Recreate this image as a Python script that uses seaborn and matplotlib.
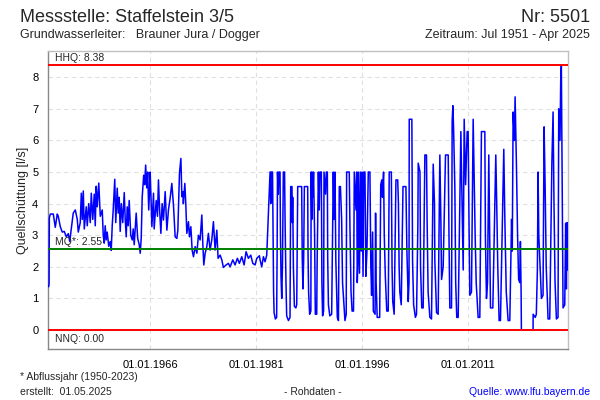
import matplotlib
matplotlib.use("Agg")
import matplotlib.pyplot as plt
import numpy as np
import seaborn as sns

# decimal years / discharge in l/s
years_early = [
    1951.64, 1951.70, 1951.74, 1951.88, 1952.30, 1952.58, 1952.86, 1953.00, 1953.29, 1953.57,
    1953.85, 1954.14, 1954.42, 1954.63, 1954.84, 1955.12, 1955.41, 1955.69, 1955.83, 1956.11,
    1956.26, 1956.40, 1956.54, 1956.68, 1956.96, 1957.10, 1957.31, 1957.53, 1957.67, 1957.88,
    1958.09, 1958.23, 1958.37, 1958.51, 1958.73, 1958.94, 1959.22, 1959.36, 1959.50, 1959.64,
    1959.78, 1959.92, 1960.14, 1960.35, 1960.49, 1960.63, 1960.77, 1960.99, 1961.13, 1961.34,
    1961.48, 1961.62, 1961.76, 1961.91, 1962.12, 1962.33, 1962.47, 1962.61, 1962.75, 1962.89,
    1963.03, 1963.25, 1963.46, 1963.60, 1963.74, 1964.02, 1964.23, 1964.45, 1964.59, 1964.73,
    1964.87, 1965.08, 1965.22, 1965.36, 1965.51, 1965.65, 1965.79, 1965.93, 1966.00, 1966.24,
    1966.47, 1966.56, 1966.85, 1967.03, 1967.17, 1967.31, 1967.51, 1967.69, 1967.88, 1968.12,
    1968.36, 1968.58, 1968.82, 1969.06, 1969.29, 1969.53, 1969.77, 1969.91, 1970.14, 1970.34,
    1970.48, 1970.62, 1970.69, 1970.90, 1971.04, 1971.18, 1971.41, 1971.55, 1971.75, 1971.93,
    1972.12, 1972.36, 1972.60, 1972.82, 1973.06, 1973.30, 1973.44, 1973.58, 1973.77, 1974.01,
    1974.23, 1974.47, 1974.71, 1974.94, 1975.18, 1975.42, 1975.60, 1975.89, 1976.13, 1976.35,
    1976.73, 1977.06, 1977.30, 1977.68, 1978.00, 1978.33, 1978.61, 1978.95, 1979.28, 1979.56,
    1979.88, 1980.22, 1980.51, 1980.83, 1981.07, 1981.44, 1981.54, 1981.77, 1982.01, 1982.24,
    1982.48,
]
q_early = [
    1.37, 1.45, 3.55, 3.67, 3.67, 3.25, 3.67, 3.60, 3.27, 3.10,
    3.12, 2.95, 3.05, 2.80, 3.20, 3.70, 3.80, 3.50, 3.10, 3.40,
    4.33, 3.50, 4.40, 3.20, 3.90, 3.30, 4.00, 3.40, 4.33, 3.50,
    4.30, 3.30, 4.55, 3.90, 4.65, 3.60, 3.80, 3.00, 2.75, 3.30,
    2.85, 3.10, 2.65, 2.80, 2.52, 3.30, 3.80, 4.77, 3.40, 4.49,
    3.70, 4.20, 3.12, 4.00, 3.40, 4.35, 3.50, 2.95, 3.90, 3.30,
    4.10, 3.00, 2.85, 3.20, 2.70, 3.70, 2.90, 2.70, 2.43, 2.90,
    4.20, 4.90, 4.60, 5.22, 4.50, 5.00, 3.80, 4.50, 5.00, 3.27,
    4.33, 3.20, 4.10, 3.60, 4.75, 3.90, 3.06, 4.00, 3.48, 4.38,
    3.16, 3.80, 4.17, 4.64, 3.96, 2.95, 2.90, 3.16, 4.96, 5.43,
    4.22, 4.38, 4.00, 4.64, 3.96, 3.06, 3.43, 2.95, 3.27, 2.53,
    2.32, 2.64, 2.43, 3.00, 2.85, 3.64, 2.74, 2.06, 2.43, 2.64,
    3.06, 2.53, 2.85, 3.43, 2.53, 3.16, 2.27, 2.37, 2.22, 1.98,
    2.06, 2.11, 2.00, 2.22, 2.06, 2.27, 2.11, 2.32, 2.06, 2.48,
    2.27, 2.37, 2.11, 2.06, 2.27, 2.35, 2.22, 2.00, 2.32, 2.16,
    2.37,
]
years_late = [
    1982.95, 1983.05, 1983.10, 1983.30, 1983.38, 1983.45, 1983.52, 1983.70, 1983.88, 1983.95,
    1984.00, 1984.12, 1984.20, 1984.36, 1984.42, 1984.50, 1984.60, 1984.70, 1984.83, 1985.00,
    1985.07, 1985.20, 1985.30, 1985.55, 1985.77, 1985.87, 1986.05, 1986.10, 1986.15, 1986.25,
    1986.39, 1986.60, 1986.72, 1986.86, 1987.42, 1987.50, 1987.60, 1987.70, 1987.80, 1988.27,
    1988.32, 1988.40, 1988.55, 1988.72, 1988.76, 1988.85, 1988.90, 1989.00, 1989.10, 1989.25,
    1989.35, 1989.55, 1989.60, 1989.78, 1989.90, 1990.00, 1990.20, 1990.28, 1990.38, 1990.52,
    1990.58, 1990.80, 1990.90, 1991.05, 1991.10, 1991.20, 1991.40, 1991.66, 1991.89, 1992.00,
    1992.13, 1992.25, 1992.46, 1992.62, 1992.74, 1992.90, 1993.07, 1993.20, 1993.40, 1993.54,
    1993.72, 1993.78, 1994.15, 1994.25, 1994.40, 1994.55, 1994.75, 1994.86, 1995.10, 1995.20,
    1995.28, 1995.38, 1995.42, 1995.60, 1995.70, 1995.85, 1995.95, 1996.10, 1996.20, 1996.37,
    1996.50, 1996.65, 1996.84, 1997.07, 1997.20, 1997.31, 1997.45, 1997.55, 1997.80, 1997.87,
    1997.95, 1998.10, 1998.45, 1998.60, 1998.75, 1998.85, 1999.00, 1999.10, 1999.25, 1999.45,
    1999.66, 1999.80, 2000.10, 2000.20, 2000.30, 2000.50, 2000.75, 2001.00, 2001.10, 2001.20,
    2001.30, 2001.50, 2001.75, 2002.16, 2002.30, 2002.49, 2002.60, 2002.63, 2003.00, 2003.10,
    2003.25, 2003.50, 2003.66, 2003.85, 2003.90, 2004.15, 2004.23, 2004.40, 2004.60, 2004.84,
    2005.07, 2005.15, 2005.30, 2005.55, 2005.78, 2006.02, 2006.20, 2006.25, 2006.49, 2006.72,
    2006.96, 2007.10, 2007.20, 2007.43, 2007.76, 2008.14, 2008.25, 2008.37, 2008.61, 2008.70,
    2008.80, 2008.90, 2009.08, 2009.20, 2009.35, 2009.55, 2009.93, 2010.10, 2010.26, 2010.40,
    2010.60, 2010.82, 2010.96, 2011.10, 2011.20, 2011.43, 2011.67, 2011.80, 2011.95, 2012.10,
    2012.37, 2012.61, 2012.84, 2013.32, 2013.40, 2013.55, 2013.70, 2013.88, 2014.00, 2014.12,
    2014.45, 2014.87, 2015.00, 2015.15, 2015.34, 2015.53, 2016.00, 2016.15, 2016.35, 2016.61,
    2016.85, 2017.00, 2017.10, 2017.20, 2017.32, 2017.50, 2017.60, 2017.79, 2017.95, 2018.10,
    2018.26, 2018.35, 2018.45, 2018.49, 2020.14, 2020.15, 2020.45, 2020.60, 2020.75, 2020.85,
    2020.95, 2021.10, 2021.32, 2021.55, 2021.70, 2021.85, 2022.00, 2022.26, 2022.50, 2022.80,
    2022.97, 2023.10, 2023.25, 2023.44, 2023.67, 2023.77, 2023.95, 2024.05, 2024.14, 2024.25,
    2024.38, 2024.62, 2024.75, 2024.85, 2024.95, 2025.05,
]
q_late = [
    5.00, 4.00, 5.00, 5.00, 3.00, 1.20, 0.55, 0.35, 0.40, 2.50,
    5.00, 4.30, 5.00, 5.00, 3.00, 1.70, 1.00, 2.00, 5.00, 5.00,
    3.50, 1.50, 0.45, 0.30, 0.40, 4.54, 4.54, 3.40, 4.20, 2.00,
    0.75, 0.70, 0.80, 4.54, 4.54, 2.30, 1.30, 2.20, 4.54, 4.54,
    2.40, 1.20, 0.50, 0.60, 5.00, 3.50, 5.00, 4.20, 5.00, 3.00,
    0.50, 0.50, 2.00, 5.00, 3.80, 5.00, 5.00, 1.50, 0.45, 0.60,
    5.00, 4.30, 5.00, 5.00, 2.30, 0.80, 0.45, 0.50, 5.00, 3.50,
    5.00, 2.20, 0.40, 0.30, 4.54, 4.54, 3.50, 1.50, 0.80, 0.30,
    0.50, 5.00, 5.00, 3.20, 1.20, 0.60, 0.60, 5.00, 3.80, 5.00,
    1.50, 2.20, 5.00, 1.80, 5.00, 2.50, 5.00, 1.70, 5.00, 5.00,
    1.70, 2.50, 5.00, 5.00, 2.00, 1.10, 3.10, 0.60, 0.50, 3.70,
    1.50, 0.40, 0.40, 4.60, 4.75, 4.20, 5.00, 3.00, 1.70, 0.60,
    0.60, 5.00, 5.00, 2.00, 0.90, 0.50, 4.75, 4.75, 4.00, 2.00,
    1.20, 0.80, 4.54, 4.54, 2.50, 0.90, 1.50, 6.67, 6.67, 2.20,
    0.80, 0.40, 0.50, 3.30, 5.28, 5.00, 2.00, 0.70, 0.70, 5.54,
    5.54, 3.60, 1.20, 0.40, 0.35, 5.25, 4.00, 2.20, 0.55, 0.50,
    5.54, 3.50, 1.60, 2.00, 5.54, 5.54, 3.00, 0.70, 0.70, 6.60,
    7.10, 6.40, 4.50, 1.50, 0.40, 0.40, 6.28, 4.00, 1.90, 6.67,
    4.60, 6.28, 6.28, 3.00, 1.10, 1.20, 6.67, 5.00, 3.00, 1.50,
    0.40, 0.40, 6.28, 6.28, 3.00, 1.00, 1.50, 5.54, 3.00, 0.70,
    0.70, 5.54, 4.00, 2.00, 0.30, 0.30, 5.72, 3.50, 1.20, 0.30,
    0.30, 2.20, 3.50, 2.50, 6.90, 6.00, 7.38, 5.20, 3.00, 1.60,
    1.50, 2.80, 1.20, 0.00, 0.00, 0.50, 0.40, 0.50, 1.90, 5.00,
    3.00, 2.20, 1.00, 1.10, 6.43, 4.50, 2.00, 0.35, 0.35, 5.30,
    6.90, 4.00, 1.50, 0.35, 0.40, 7.00, 6.00, 7.90, 8.38, 5.00,
    0.70, 0.80, 3.38, 1.30, 3.40, 1.90,
]

hhq = 8.38
mq = 2.55
nnq = 0.00
tick_years = [1966, 1981, 1996, 2011]
tick_labels = ["01.01.1966", "01.01.1981", "01.01.1996", "01.01.2011"]

sns.set_theme(style="white")
plt.rcParams["font.family"] = ["Liberation Sans", "DejaVu Sans"]

fig = plt.figure(figsize=(6, 4), dpi=100)
ax = fig.add_axes([48 / 600, 1 - 349 / 400, 520 / 600, 298 / 400])

x = np.array(years_early + years_late)
y = np.array(q_early + q_late)
sns.lineplot(x=x, y=y, ax=ax, color="#0000ff", linewidth=1.1,
             estimator=None, sort=False, zorder=3)

ax.axhline(hhq, color="#ff0000", linewidth=1.4, zorder=4)
ax.axhline(nnq, color="#ff0000", linewidth=1.4, zorder=4)
ax.axhline(mq, color="#008000", linewidth=1.4, zorder=4)
ax.text(1952.5, hhq + 0.08, f"HHQ: {hhq:.2f}", fontsize=7.5, va="bottom", zorder=5)
ax.text(1952.5, mq + 0.08, f"MQ*: {mq:.2f}", fontsize=7.5, va="bottom", zorder=5)
ax.text(1952.5, nnq - 0.12, f"NNQ: {nnq:.2f}", fontsize=7.5, va="top", zorder=5)

ax.set_xlim(1951.55, 2025.08)
ax.set_ylim(-0.6, 8.83)
ax.set_yticks(range(0, 9))
ax.set_xticks(tick_years)
ax.set_xticklabels(tick_labels)
ax.tick_params(axis="both", labelsize=8, colors="#000000")
ax.tick_params(axis="y", length=3, color="#999999", pad=4)
ax.tick_params(axis="x", length=0, pad=8)
for yy in range(1, 9):
    ax.axhline(yy, color="#e0e0e0", linewidth=0.8, linestyle=(0, (4, 3)), zorder=1)
for xx in tick_years:
    ax.axvline(xx, color="#e0e0e0", linewidth=0.8, linestyle=(0, (4, 3)), zorder=1)
ax.set_xlabel("")
ax.set_ylabel("Quellschüttung [l/s]", fontsize=9, labelpad=2)
for side in ["left", "bottom"]:
    ax.spines[side].set_color("#888888")
for side in ["top", "right"]:
    ax.spines[side].set_color("#c0c0c0")
for sp in ax.spines.values():
    sp.set_linewidth(1.0)

fig.text(20 / 600, 1 - 17 / 400, "Messstelle: Staffelstein 3/5", fontsize=13, va="center", ha="left")
fig.text(590 / 600, 1 - 17 / 400, "Nr: 5501", fontsize=13, va="center", ha="right")
fig.text(20 / 600, 1 - 35 / 400, "Grundwasserleiter:   Brauner Jura / Dogger", fontsize=9, va="center", ha="left")
fig.text(590 / 600, 1 - 35 / 400, "Zeitraum: Jul 1951 - Apr 2025", fontsize=9, va="center", ha="right")
fig.text(20 / 600, 1 - 377 / 400, "* Abflussjahr (1950-2023)", fontsize=7.5, va="center", ha="left")
fig.text(20 / 600, 1 - 392 / 400, "erstellt:  01.05.2025", fontsize=7.5, va="center", ha="left")
fig.text(313 / 600, 1 - 392 / 400, "- Rohdaten -", fontsize=7.5, va="center", ha="center")
fig.text(590 / 600, 1 - 392 / 400, "Quelle: www.lfu.bayern.de", fontsize=7.5, va="center", ha="right", color="#0000ff")

fig.savefig("out.png", dpi=100)
plt.close(fig)
